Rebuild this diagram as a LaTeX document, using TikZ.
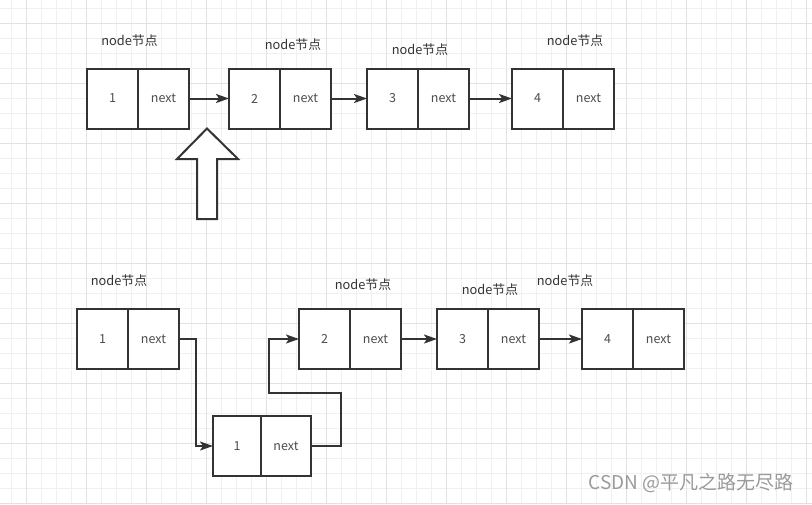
\documentclass[tikz,border=0pt]{standalone}
\usepackage{fontspec}
\setmainfont{Noto Sans CJK SC}
\usetikzlibrary{arrows.meta}
\definecolor{linegray}{HTML}{333333}
\definecolor{txtgray}{HTML}{4D4D4D}
\definecolor{gridminor}{HTML}{F0F0F0}
\definecolor{gridmajor}{HTML}{E2E2E2}
\definecolor{markgray}{HTML}{9A9A9A}
\begin{document}
\begin{tikzpicture}[x=1pt,y=-1pt,
  cell/.style={draw=linegray,line width=2pt,fill=white,minimum width=51pt,minimum height=60pt,
    inner sep=0pt,outer sep=0pt,text=txtgray,font=\fontsize{12.5}{15}\selectfont},
  lbl/.style={text=linegray,font=\fontsize{12.8}{15}\selectfont,inner sep=0pt},
  link/.style={draw=linegray,line width=2pt,-{Stealth[length=13pt,width=9pt,inset=3pt]}}]
  \useasboundingbox (0,0) rectangle (812,504);
  % grid paper
  \foreach \x in {11.7,26.7,...,811}{\draw[gridminor,line width=1pt] (\x,0) -- (\x,504);}
  \foreach \y in {8.3,23.3,...,504}{\draw[gridminor,line width=1pt] (0,\y) -- (812,\y);}
  \foreach \x in {26.7,86.7,...,811}{\draw[gridmajor,line width=1pt] (\x,0) -- (\x,504);}
  \foreach \y in {23.3,83.3,...,504}{\draw[gridmajor,line width=1pt] (0,\y) -- (812,\y);}
  % (a) list before insertion
  \foreach \i/\x in {1/112.5,2/254.5,3/392.5,4/537.5}{
    \node[cell] (t\i) at (\x,98.5) {\i};
    \node[cell] (tn\i) at (\x+51,98.5) {next};}
  \foreach \i/\x/\y in {1/129.5/41,2/293/45,3/420/50,4/575/41}{\node[lbl] (tl\i) at (\x,\y) {node节点};}
  \foreach \a/\b in {1/2,2/3,3/4}{\draw[link] (tn\a.east) -- (t\b.west);}
  % insertion point
  \draw[linegray,line width=2pt,fill=white,line join=miter]
    (197,219) -- (197,159) -- (177,159) -- (207,128.5) -- (238,159) -- (217,159) -- (217,219) -- cycle;
  % (b) list after insertion
  \foreach \i/\x in {1/102.5,2/324.5,3/462.5,4/607.5}{
    \node[cell] (b\i) at (\x,339) {\i};
    \node[cell] (bn\i) at (\x+51,339) {next};}
  \foreach \i/\x/\y in {1/119/281,2/363/285,3/490/290,4/565/281}{\node[lbl] (bl\i) at (\x,\y) {node节点};}
  \node[cell,minimum width=48pt] (m) at (237,446) {1};
  \node[cell,minimum width=50pt] (mn) at (286,446) {next};
  \draw[link] (bn1.east) -- ++(17,0) |- (m.west);
  \draw[link] (mn.east) -- ++(30,0) -- ++(0,-53) -| ([xshift=-30pt]b2.west) -- (b2.west);
  \foreach \a/\b in {2/3,3/4}{\draw[link] (bn\a.east) -- (b\b.west);}
  % watermark
  \node[text=markgray,font=\fontsize{19}{21}\selectfont,inner sep=0pt] (mark) at (691,483) {CSDN @平凡之路无尽路};
\end{tikzpicture}
\end{document}
